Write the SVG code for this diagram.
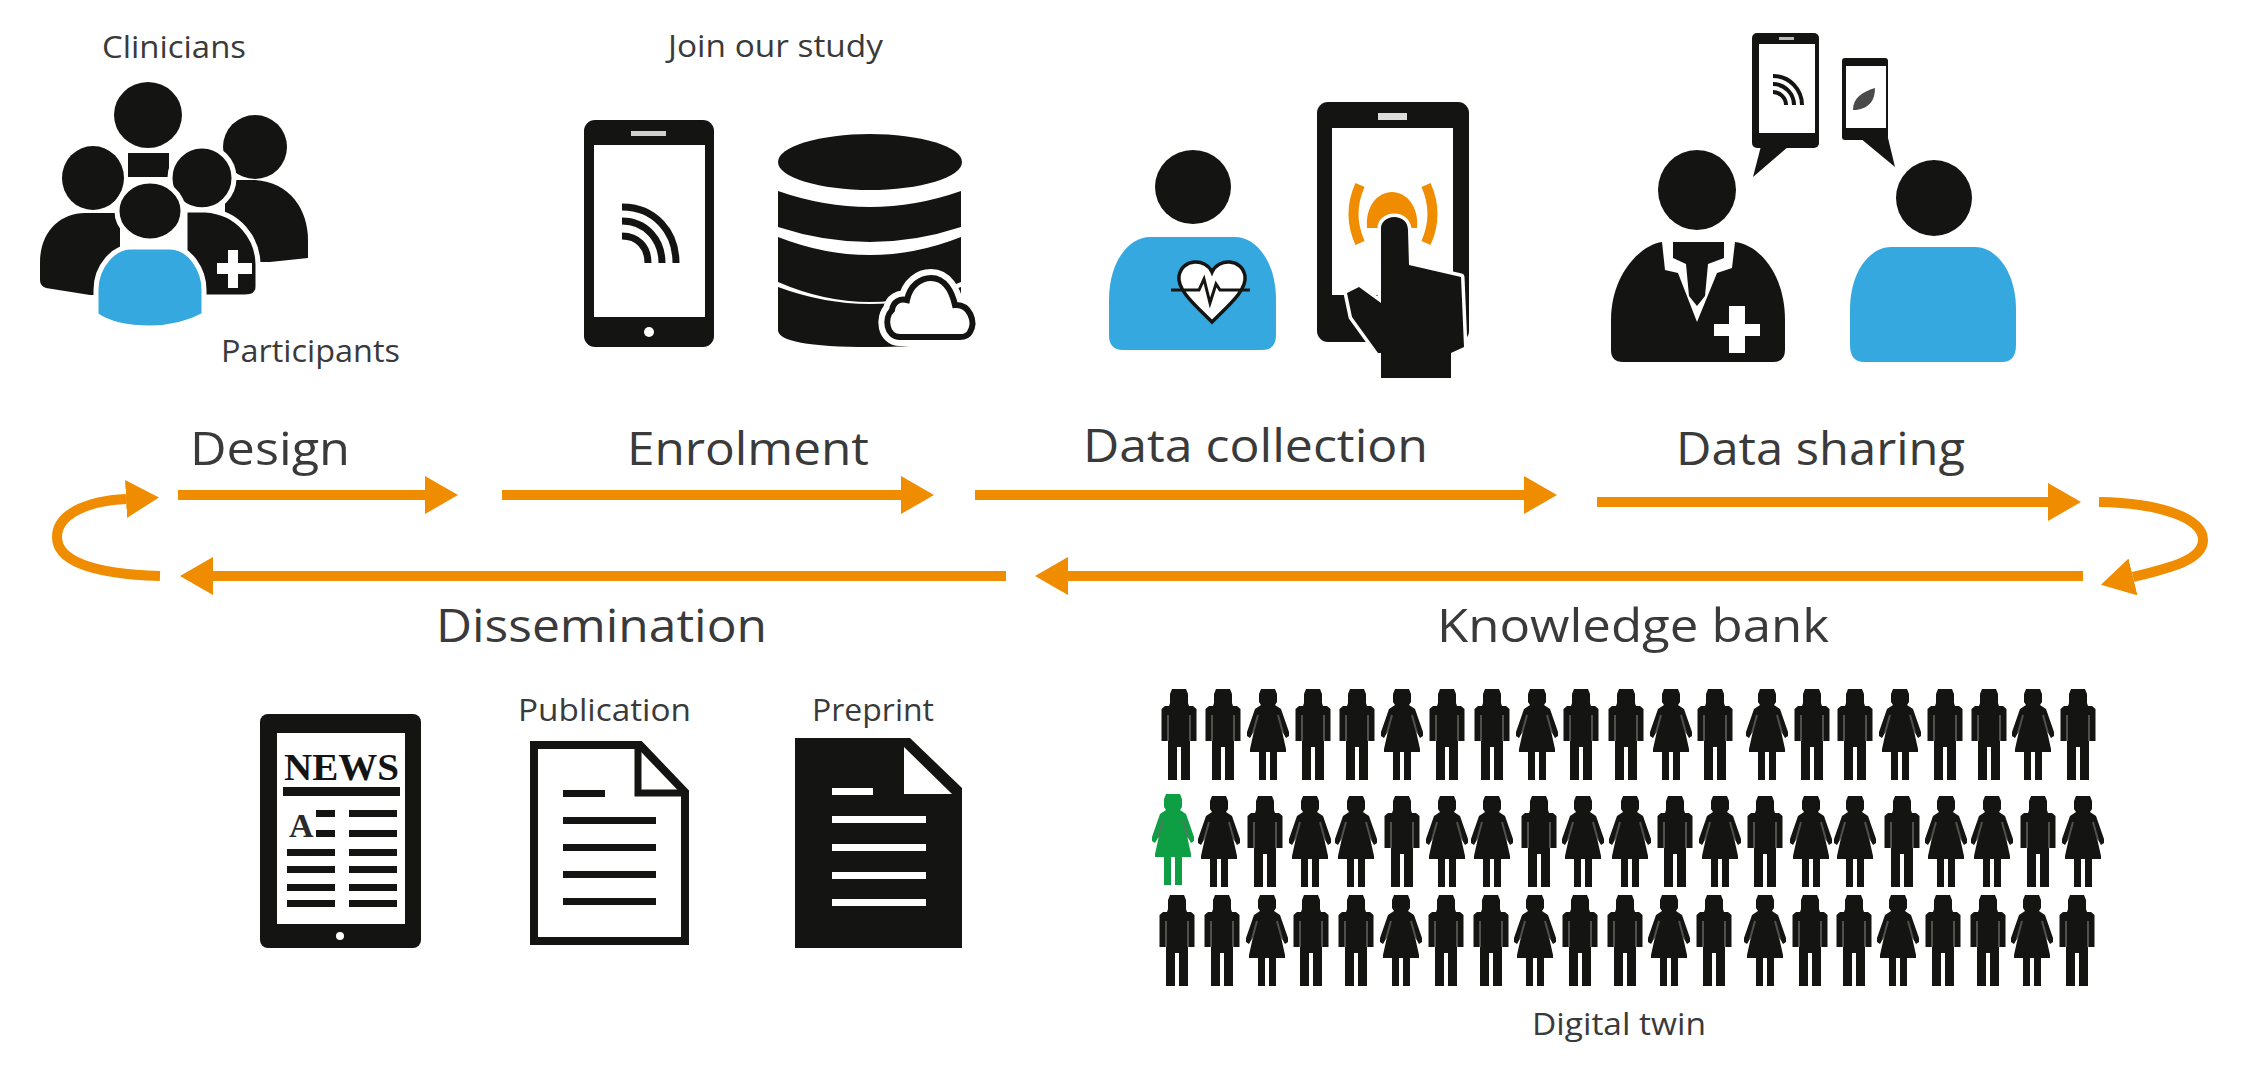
<svg xmlns="http://www.w3.org/2000/svg" width="2244" height="1068" viewBox="0 0 2244 1068">
<style>
text{font-family:"Open Sans","Liberation Sans",sans-serif;fill:#3a3a3a}
.big{font-size:46px}
.small{font-size:31px}
.k{fill:#141412}
.b{fill:#35a8e0}
.w{fill:#fff}
.halo{stroke:#fff;stroke-width:5;stroke-linejoin:round}
.arc{fill:none;stroke:#141412;stroke-linecap:butt}
.flow{fill:none;stroke:#f08c00;stroke-width:10;marker-end:url(#head)}
.armline{fill:none;stroke:#6a6a6a;stroke-opacity:.7;stroke-width:2}
</style>
<defs>
<marker id="head" viewBox="0 0 33 38" refX="0" refY="19" markerWidth="33" markerHeight="38" markerUnits="userSpaceOnUse" orient="auto"><path d="M0 0L33 19L0 38Z" fill="#f08c00"/></marker>
<g id="man"><path d="M-7 0H7L9 5V14L10 17H14L17.5 20V52H11V91H2V58H-2V91H-11V52H-17.5V20L-14 17H-10L-9 14V5Z"/><path class="armline" d="M-11 26V52M11 26V52"/></g>
<g id="woman"><path d="M-7 0H7L9 5V13L7 16L13 20L21 43V47L18 49L14 42L18 60V63H9V91H2V63H-2V91H-9V63H-18V60L-14 42L-18 49L-21 47V43L-13 20L-7 16L-9 13V5Z"/><path class="armline" d="M-10 26L-15 44M10 26L15 44"/></g>
</defs>
<rect width="2244" height="1068" fill="#fff"/>

<g id="connectors">
<path class="flow" d="M178 495H425"/>
<path class="flow" d="M502 495H901"/>
<path class="flow" d="M975 495H1524"/>
<path class="flow" d="M1597 502H2048"/>
<path class="flow" d="M2099 502C2160 503 2203 518 2203 540C2203 560 2170 568 2133 577"/>
<path class="flow" d="M2083 576H1068"/>
<path class="flow" d="M1006 576H213"/>
<path class="flow" d="M160 576C90 574 57 560 57 537C57 515 85 501 126 499"/>
</g>

<g id="labels">
<text class="big" x="190" y="465" textLength="160" lengthAdjust="spacingAndGlyphs">Design</text>
<text class="big" x="627" y="465" textLength="242" lengthAdjust="spacingAndGlyphs">Enrolment</text>
<text class="big" x="1083" y="462" textLength="345" lengthAdjust="spacingAndGlyphs">Data collection</text>
<text class="big" x="1676" y="465" textLength="289" lengthAdjust="spacingAndGlyphs">Data sharing</text>
<text class="big" x="436" y="642" textLength="331" lengthAdjust="spacingAndGlyphs">Dissemination</text>
<text class="big" x="1437" y="642" textLength="392" lengthAdjust="spacingAndGlyphs">Knowledge bank</text>
</g>

<g id="design">
<ellipse class="k" cx="255" cy="147" rx="32" ry="32"/>
<path class="k" d="M225 180H255C290 182 308 210 308 240V258L270 262H225Z"/>
<ellipse class="k" cx="148" cy="115" rx="34" ry="33"/>
<rect class="k" x="128" y="153" width="41" height="24"/>
<ellipse class="k" cx="93" cy="178" rx="31" ry="32"/>
<path class="k" d="M40 280V262C40 232 60 213 85 213H120V295H90L46 288Q40 286 40 280Z"/>
<ellipse class="k halo" cx="202" cy="178" rx="32" ry="32"/>
<path class="k halo" d="M185 210H205C240 212 258 240 258 265V287Q258 297 245 297H185Z"/>
<path class="w" d="M217 263H228V250H238V263H252V274H238V288H228V274H217Z"/>
<ellipse class="k halo" cx="150" cy="211" rx="33" ry="30"/>
<path class="b halo" d="M96 310V290C96 265 115 247 130 247H170C190 247 204 270 204 290V315Q180 328 150 328Q115 328 96 315Z"/>
<text class="small" x="102" y="58" textLength="144" lengthAdjust="spacingAndGlyphs">Clinicians</text>
<text class="small" x="221" y="362" textLength="179" lengthAdjust="spacingAndGlyphs">Participants</text>
</g>

<g id="enrolment">
<rect class="k" x="584" y="120" width="130" height="227" rx="11"/>
<rect class="w" x="594" y="145" width="111" height="172"/>
<rect class="w" x="631" y="131" width="35" height="5" fill-opacity=".8"/>
<circle class="w" cx="649" cy="332" r="5"/>
<path class="arc" stroke-width="7" d="M622 207C655 207 676 232 676 263M622 221C646 221 662 240 662 263M622 236C638 236 648 247 648 263"/>
<text class="small" x="668" y="57" textLength="215" lengthAdjust="spacingAndGlyphs">Join our study</text>
<ellipse class="k" cx="870" cy="162" rx="92" ry="28"/>
<path class="k" d="M778 191Q870 223 961 191V227Q870 257 778 227Z"/>
<path class="k" d="M778 237Q870 273 961 237V282Q870 322 778 282Z"/>
<path class="k" d="M778 287Q870 321 961 287V330Q961 347 870 347Q778 347 778 330Z"/>
<path d="M900 337C886 337 884 318 892 310C893 302 900 298 907 300C910 285 921 278 931 278C945 278 952 292 955 305C970 304 976 322 970 332C968 336 964 337 960 337Z" fill="#fff" stroke="#fff" stroke-width="18"/>
<path d="M900 337C886 337 884 318 892 310C893 302 900 298 907 300C910 285 921 278 931 278C945 278 952 292 955 305C970 304 976 322 970 332C968 336 964 337 960 337Z" fill="#fff" stroke="#141412" stroke-width="6"/>
</g>

<g id="data-collection">
<ellipse class="k" cx="1193" cy="187" rx="38" ry="37"/>
<path class="b" d="M1109 335V300C1109 260 1130 237 1150 237H1235C1255 237 1276 260 1276 300V335Q1276 350 1262 350H1123Q1109 350 1109 335Z"/>
<path d="M1212 272C1206 258 1182 258 1179 276C1177 290 1195 305 1212 322C1229 305 1247 290 1245 276C1242 258 1218 258 1212 272Z" fill="#fff" stroke="#141412" stroke-width="3.5"/>
<path d="M1171 290H1199L1204 279L1210 303L1216 284L1220 290H1250" fill="none" stroke="#141412" stroke-width="3"/>
<rect class="k" x="1317" y="102" width="152" height="240" rx="11"/>
<rect class="w" x="1332" y="128" width="121" height="167"/>
<rect class="w" x="1378" y="113" width="29" height="7" fill-opacity=".85"/>
<path d="M1367 228C1365 206 1378 192 1392 192C1406 192 1419 206 1417 228Z" fill="#f08c00"/>
<path d="M1360 185Q1347 214 1360 243M1426 185Q1439 214 1426 243" fill="none" stroke="#f08c00" stroke-width="10"/>
<path class="k" d="M1394 217C1402 217 1408 222 1408 230L1409 265L1461 277L1464 347L1451 353V378H1381V353L1378 353L1352 317L1347 293L1359 287L1381 303V228C1381 222 1387 217 1394 217Z" stroke="#fff" stroke-width="7" stroke-linejoin="round" paint-order="stroke"/>
</g>

<g id="data-sharing">
<ellipse class="k" cx="1697" cy="190" rx="39" ry="40"/>
<path class="k" d="M1611 350V320C1611 275 1640 245 1662 242H1735C1760 245 1785 275 1785 320V350Q1785 362 1773 362H1623Q1611 362 1611 350Z"/>
<path class="w" d="M1662 242L1665 270L1678 273L1697 322L1717 273L1732 268L1735 242Z"/>
<path class="k" d="M1673 242H1724V258L1708 264L1705 296L1697 306L1689 296L1686 264L1673 258Z"/>
<path class="w" d="M1714 324H1729V306H1745V324H1760V336H1745V353H1729V336H1714Z"/>
<ellipse class="k" cx="1934" cy="198" rx="38" ry="38"/>
<path class="b" d="M1850 345V310C1850 270 1871 247 1891 247H1975C1995 247 2016 270 2016 310V345Q2016 362 2002 362H1864Q1850 362 1850 345Z"/>
<rect class="k" x="1752" y="33" width="67" height="115" rx="5"/>
<path class="k" d="M1761 146L1753 177L1789 146Z"/>
<rect class="w" x="1759" y="44" width="56" height="89"/>
<rect class="w" x="1779" y="37" width="15" height="3" fill-opacity=".7"/>
<path class="arc" stroke-width="4" d="M1773 76C1790 76 1802 90 1802 105M1773 84C1785 84 1794 94 1794 105M1773 92C1780 92 1786 98 1786 105"/>
<rect class="k" x="1842" y="58" width="46" height="82" rx="3"/>
<path class="k" d="M1860 138L1895 167L1888 138Z"/>
<rect class="w" x="1846" y="66" width="40" height="62"/>
<path d="M1853 110C1853 98 1862 92 1875 88C1875 100 1870 108 1856 110Z" fill="#4a4a4a"/>
</g>

<g id="dissemination">
<rect class="k" x="260" y="714" width="161" height="234" rx="8"/>
<rect class="w" x="277" y="733" width="128" height="191"/>
<circle class="w" cx="340" cy="936" r="4"/>
<text x="284" y="780" font-size="37" font-weight="700" textLength="115" lengthAdjust="spacingAndGlyphs" style="font-family:'Liberation Serif',serif;fill:#141412">NEWS</text>
<rect class="k" x="283" y="787" width="117" height="9"/>
<text x="289" y="837" font-size="34" font-weight="700" style="font-family:'Liberation Serif',serif;fill:#2a2a2a">A</text>
<path class="k" d="M316 810h19v7h-19zM316 830h19v7h-19zM349 810h48v7h-48zM349 830h48v7h-48zM287 849h48v7h-48zM349 849h48v7h-48zM287 866h48v7h-48zM349 866h48v7h-48zM287 884h48v7h-48zM349 884h48v7h-48zM287 900h48v7h-48zM349 900h48v7h-48z"/>
<path d="M534 745H640L685 792V941H534Z" fill="#fff" stroke="#141412" stroke-width="8"/>
<path d="M638 745V793H685" fill="none" stroke="#141412" stroke-width="7"/>
<path class="k" d="M563 790h42v7h-42zM563 817h93v7h-93zM563 844h93v7h-93zM563 871h93v7h-93zM563 898h93v7h-93z"/>
<text class="small" x="518" y="721" textLength="173" lengthAdjust="spacingAndGlyphs">Publication</text>
<path class="k" d="M795 738H910L962 788V948H795Z"/>
<path class="w" d="M904 747V794H952Z"/>
<path class="w" d="M832 788h41v7h-41zM832 816h94v7h-94zM832 844h94v7h-94zM832 872h94v7h-94zM832 899h94v7h-94z"/>
<text class="small" x="812" y="721" textLength="122" lengthAdjust="spacingAndGlyphs">Preprint</text>
</g>

<g id="knowledge-bank">
<g id="row1" fill="#141412">
<use href="#man" x="1179" y="689"/><use href="#man" x="1223" y="689"/><use href="#woman" x="1268" y="689"/><use href="#man" x="1313" y="689"/><use href="#man" x="1357" y="689"/><use href="#woman" x="1402" y="689"/><use href="#man" x="1447" y="689"/><use href="#man" x="1492" y="689"/><use href="#woman" x="1537" y="689"/><use href="#man" x="1581" y="689"/><use href="#man" x="1626" y="689"/><use href="#woman" x="1671" y="689"/><use href="#man" x="1715" y="689"/><use href="#woman" x="1767" y="689"/><use href="#man" x="1812" y="689"/><use href="#man" x="1855" y="689"/><use href="#woman" x="1900" y="689"/><use href="#man" x="1945" y="689"/><use href="#man" x="1989" y="689"/><use href="#woman" x="2033" y="689"/><use href="#man" x="2078" y="689"/>
</g>
<g id="row2" fill="#141412">
<use href="#woman" x="1173" y="794" fill="#0e9f45"/><use href="#woman" x="1219" y="796"/><use href="#man" x="1265" y="796"/><use href="#woman" x="1310" y="796"/><use href="#woman" x="1356" y="796"/><use href="#man" x="1402" y="796"/><use href="#woman" x="1447" y="796"/><use href="#woman" x="1492" y="796"/><use href="#man" x="1539" y="796"/><use href="#woman" x="1583" y="796"/><use href="#woman" x="1630" y="796"/><use href="#man" x="1675" y="796"/><use href="#woman" x="1720" y="796"/><use href="#man" x="1765" y="796"/><use href="#woman" x="1811" y="796"/><use href="#woman" x="1855" y="796"/><use href="#man" x="1902" y="796"/><use href="#woman" x="1946" y="796"/><use href="#woman" x="1992" y="796"/><use href="#man" x="2038" y="796"/><use href="#woman" x="2083" y="796"/>
</g>
<g id="row3" fill="#141412">
<use href="#man" x="1177" y="895"/><use href="#man" x="1222" y="895"/><use href="#woman" x="1267" y="895"/><use href="#man" x="1311" y="895"/><use href="#man" x="1356" y="895"/><use href="#woman" x="1401" y="895"/><use href="#man" x="1446" y="895"/><use href="#man" x="1491" y="895"/><use href="#woman" x="1535" y="895"/><use href="#man" x="1580" y="895"/><use href="#man" x="1625" y="895"/><use href="#woman" x="1669" y="895"/><use href="#man" x="1714" y="895"/><use href="#woman" x="1765" y="895"/><use href="#man" x="1810" y="895"/><use href="#man" x="1854" y="895"/><use href="#woman" x="1898" y="895"/><use href="#man" x="1943" y="895"/><use href="#man" x="1988" y="895"/><use href="#woman" x="2032" y="895"/><use href="#man" x="2077" y="895"/>
</g>
<text class="small" x="1532" y="1035" textLength="174" lengthAdjust="spacingAndGlyphs">Digital twin</text>
</g>
</svg>
